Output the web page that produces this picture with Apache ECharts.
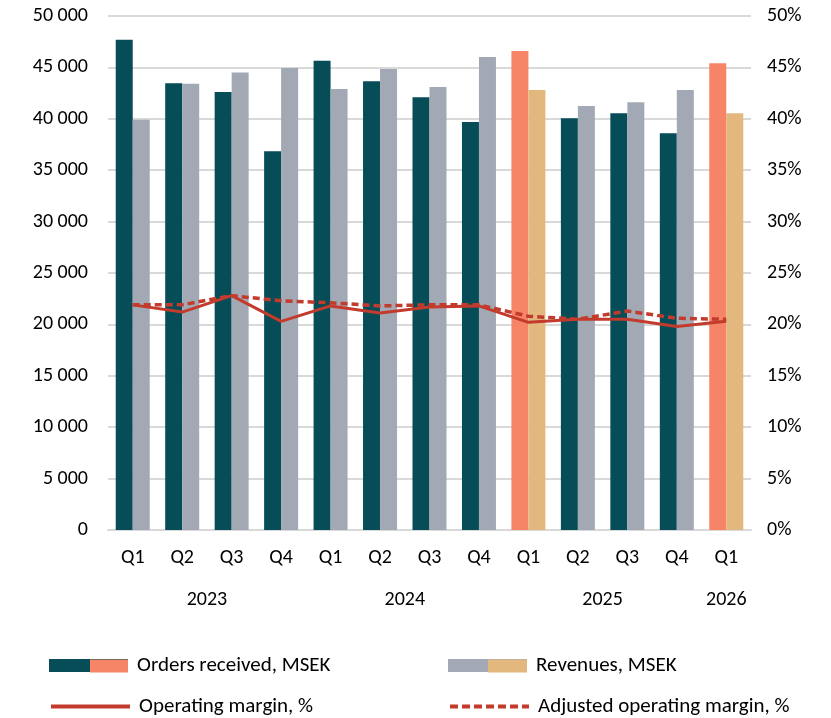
<!DOCTYPE html>
<html>
<head>
<meta charset="utf-8">
<script src="https://cdn.jsdelivr.net/npm/echarts@6/dist/echarts.min.js"></script>
<style>
  html, body { margin: 0; padding: 0; background: #fff; }
  #chart { width: 831px; height: 718px; }
</style>
</head>
<body>
<div id="chart"></div>
<script>
// quarters and year groups
var quarters = ['Q1', 'Q2', 'Q3', 'Q4', 'Q1', 'Q2', 'Q3', 'Q4', 'Q1', 'Q2', 'Q3', 'Q4', 'Q1'];
var years = ['2023', '2024', '2025', '2026'];
var quartersPerYear = [4, 4, 4, 1];

// MSEK
var ordersReceived = [47700, 43450, 42600, 36850, 45650, 43650, 42100, 39700, 46600, 40050, 40550, 38600, 45400];
var revenues = [39900, 43400, 44500, 44950, 42900, 44850, 43100, 46000, 42800, 41250, 41600, 42800, 40550];
// %
var operatingMargin = [21.9, 21.2, 22.8, 20.3, 21.8, 21.1, 21.7, 21.8, 20.2, 20.5, 20.5, 19.8, 20.3];
var adjustedMargin = [21.9, 21.9, 22.8, 22.3, 22.1, 21.8, 21.9, 21.9, 20.8, 20.5, 21.3, 20.6, 20.5];

// Q1 reports highlighted
var highlighted = [8, 12];

var FONT = 'Carlito, "Liberation Sans", sans-serif';
var TEAL = '#074d58', ORANGE = '#f58566', GREY = '#a2a9b4', TAN = '#e2b87e', RED = '#c23b2c';

// year label positions (centre of each group, in category index units)
var yearPos = {};
var start = 0;
for (var i = 0; i < years.length; i++) {
  var mid = start + (quartersPerYear[i] - 1) / 2;
  yearPos[mid.toFixed(1)] = years[i];
  start += quartersPerYear[i];
}

function colored(values, hi) {
  return values.map(function (v, i) {
    return highlighted.indexOf(i) >= 0 ? { value: v, itemStyle: { color: hi } } : v;
  });
}

function legendItem(name, left, top, extra) {
  var l = {
    left: left, top: top, padding: 0, itemWidth: 79, itemHeight: 13, icon: 'rect',
    data: [name],
    textStyle: { fontFamily: FONT, fontSize: 21, color: '#000', padding: [0, 0, 0, 4] }
  };
  return Object.assign(l, extra || {});
}

var myChart = echarts.init(document.getElementById('chart'));
myChart.setOption({
  animation: false,
  textStyle: { fontFamily: FONT },
  grid: { left: 108, right: 80, top: 16, bottom: 188 },
  legend: [
    legendItem('Orders received, MSEK', 49, 655),
    legendItem('Revenues, MSEK', 448, 655),
    legendItem('Operating margin, %', 49, 696, {
      icon: null, itemStyle: { opacity: 0 }, lineStyle: { width: 4 }
    }),
    legendItem('Adjusted operating margin, %', 448, 696, {
      icon: null, itemStyle: { opacity: 0 }, lineStyle: { width: 4, type: [8, 4] }
    })
  ],
  graphic: [
    { type: 'rect', left: 90, top: 659.5, shape: { width: 38, height: 13 }, style: { fill: ORANGE }, z: 100 },
    { type: 'rect', left: 488, top: 659.5, shape: { width: 39, height: 13 }, style: { fill: TAN }, z: 100 }
  ],
  xAxis: [
    {
      type: 'category',
      data: quarters,
      axisTick: { show: false },
      axisLine: { lineStyle: { color: '#d9d9d9', width: 2 } },
      axisLabel: { color: '#000', fontSize: 20, margin: 18, fontFamily: FONT }
    },
    {
      type: 'value',
      position: 'bottom',
      offset: 42,
      min: -0.5,
      max: 12.5,
      interval: 0.5,
      axisLine: { show: false },
      axisTick: { show: false },
      splitLine: { show: false },
      axisLabel: {
        color: '#000', fontSize: 20, margin: 18, fontFamily: FONT,
        showMinLabel: true, showMaxLabel: true, hideOverlap: false,
        formatter: function (v) { return yearPos[v.toFixed(1)] || ''; }
      }
    }
  ],
  yAxis: [
    {
      type: 'value',
      min: 0, max: 50000, interval: 5000,
      axisLine: { show: false },
      axisTick: { show: false },
      splitLine: { lineStyle: { color: '#d9d9d9', width: 2 } },
      axisLabel: {
        color: '#000', fontSize: 20, margin: 20, fontFamily: FONT,
        formatter: function (v) { return String(v).replace(/\B(?=(\d{3})+(?!\d))/g, ' '); }
      }
    },
    {
      type: 'value',
      min: 0, max: 50, interval: 5,
      axisLine: { show: false },
      axisTick: { show: false },
      splitLine: { show: false },
      axisLabel: { color: '#000', fontSize: 20, margin: 16, fontFamily: FONT, formatter: '{value}%' }
    }
  ],
  series: [
    {
      name: 'Orders received, MSEK', type: 'bar', barWidth: 17, barGap: '0%',
      itemStyle: { color: TEAL },
      data: colored(ordersReceived, ORANGE)
    },
    {
      name: 'Revenues, MSEK', type: 'bar', barWidth: 17, barGap: '0%',
      itemStyle: { color: GREY },
      data: colored(revenues, TAN)
    },
    {
      name: 'Operating margin, %', type: 'line', yAxisIndex: 1, symbol: 'none',
      itemStyle: { color: RED },
      lineStyle: { color: RED, width: 3 },
      data: operatingMargin, z: 5
    },
    {
      name: 'Adjusted operating margin, %', type: 'line', yAxisIndex: 1, symbol: 'none',
      itemStyle: { color: RED },
      lineStyle: { color: RED, width: 3.5, type: [7, 4] },
      data: adjustedMargin, z: 5
    }
  ]
});
</script>
</body>
</html>
